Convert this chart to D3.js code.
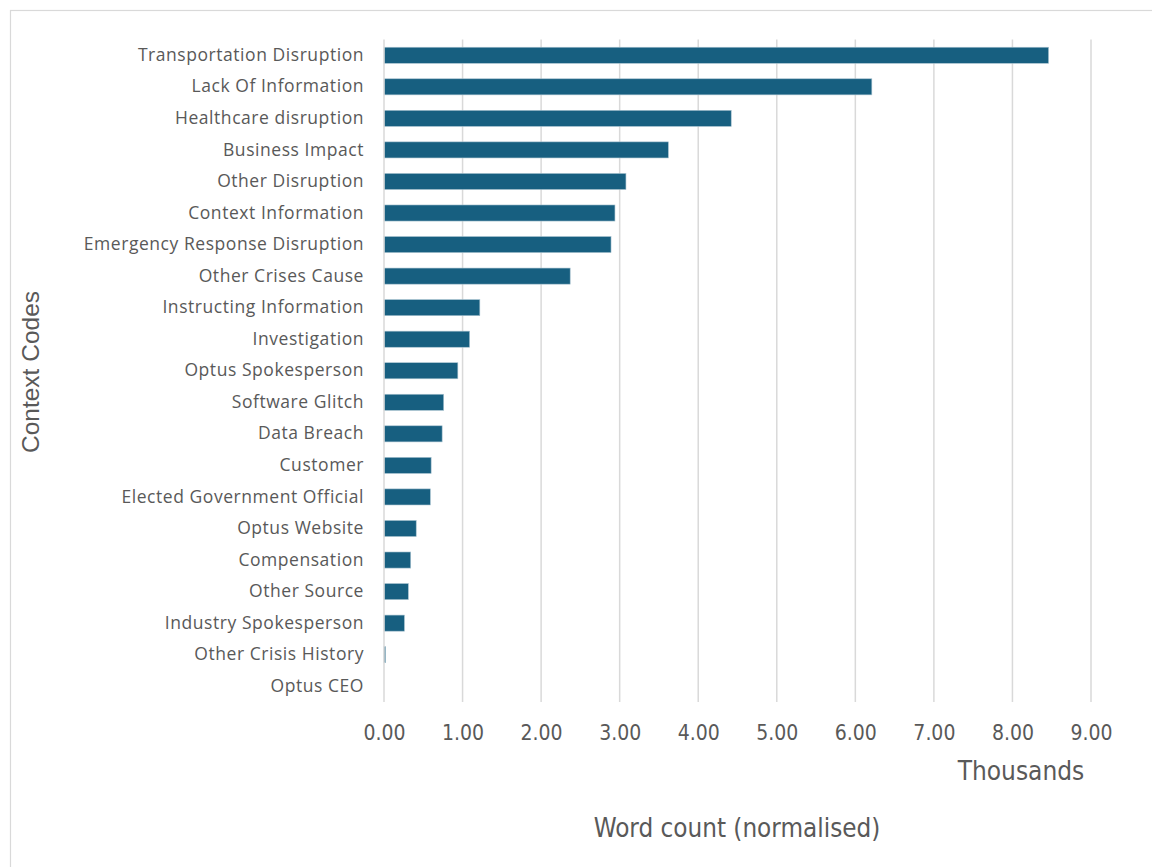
<!DOCTYPE html>
<html><head><meta charset="utf-8">
<script src="https://cdn.jsdelivr.net/npm/d3@7"></script>
<style>body{margin:0;background:#fff;} svg{display:block;}</style>
</head><body>
<svg id="c" width="1152" height="867"></svg>
<script>
const categories = ["Transportation Disruption","Lack Of Information","Healthcare disruption","Business Impact","Other Disruption","Context Information","Emergency Response Disruption","Other Crises Cause","Instructing Information","Investigation","Optus Spokesperson","Software Glitch","Data Breach","Customer","Elected Government Official","Optus Website","Compensation","Other Source","Industry Spokesperson","Other Crisis History","Optus CEO"];
const values = [8.46,6.21,4.42,3.62,3.08,2.94,2.89,2.37,1.22,1.09,0.94,0.76,0.74,0.60,0.59,0.41,0.34,0.31,0.26,0.02,0.0];
const tickValues = [0,1,2,3,4,5,6,7,8,9];

const svg = d3.select("#c");
svg.append("rect").attr("x",10.5).attr("y",10.5).attr("width",1160).attr("height",880)
  .attr("fill","#fff").attr("stroke","#d9d9d9").attr("stroke-width",1.2);

const pLeft=384, pRight=1091, pTop=39.5, pBottom=702;
const narrow = "'DejaVu Sans Condensed', Roboto, sans-serif";
const x = d3.scaleLinear().domain([0,9]).range([pLeft,pRight]);
const y = d3.scaleBand().domain(categories).range([pTop,pBottom]).paddingInner(0.49).paddingOuter(0.245);

// gridlines
svg.append("g").selectAll("line").data(tickValues.slice(1)).join("line")
  .attr("x1",d=>x(d)).attr("x2",d=>x(d)).attr("y1",pTop).attr("y2",pBottom)
  .attr("stroke","#d9d9d9").attr("stroke-width",1.5);

// bars
svg.append("g").selectAll("rect").data(values).join("rect")
  .attr("x",x(0)).attr("y",(d,i)=>y(categories[i]))
  .attr("width",d=>x(d)-x(0)).attr("height",y.bandwidth())
  .attr("fill","#175f80").attr("stroke","#a9c3d0").attr("stroke-width",0.6);

// y axis line
svg.append("line").attr("x1",pLeft).attr("x2",pLeft).attr("y1",pTop).attr("y2",pBottom)
  .attr("stroke","#d9d9d9").attr("stroke-width",1.5);

// category labels
const yAxis = d3.axisLeft(y).tickSize(0).tickPadding(20);
const gy = svg.append("g").attr("transform",`translate(${pLeft},0)`).call(yAxis);
gy.select(".domain").remove();
gy.selectAll("text").attr("font-family","'Open Sans', Lato, sans-serif").attr("font-size",17.5)
  .attr("letter-spacing","0.55px").attr("fill","#595959");

// x tick labels
const xAxis = d3.axisBottom(x).tickValues(tickValues).tickFormat(d3.format(".2f")).tickSize(0).tickPadding(0);
const gx = svg.append("g").attr("transform",`translate(0,${pBottom+22})`).call(xAxis);
gx.select(".domain").remove();
gx.selectAll("text").attr("font-family",narrow).attr("font-size",21).attr("fill","#595959")
  .attr("dy","0.35em").attr("y",9);

svg.append("text").attr("x",1021).attr("y",772).attr("text-anchor","middle").attr("dominant-baseline","middle")
  .attr("font-family",narrow).attr("font-size",26).attr("fill","#595959").text("Thousands");
svg.append("text").attr("x",737).attr("y",829).attr("text-anchor","middle").attr("dominant-baseline","middle")
  .attr("font-family",narrow).attr("font-size",25.8).attr("fill","#595959").text("Word count (normalised)");
svg.append("text").attr("transform","translate(33,372) rotate(-90)").attr("text-anchor","middle").attr("dominant-baseline","middle")
  .attr("font-family","'Liberation Sans', Arial, sans-serif").attr("font-size",24.5).attr("fill","#595959").text("Context Codes");
</script>
</body></html>
